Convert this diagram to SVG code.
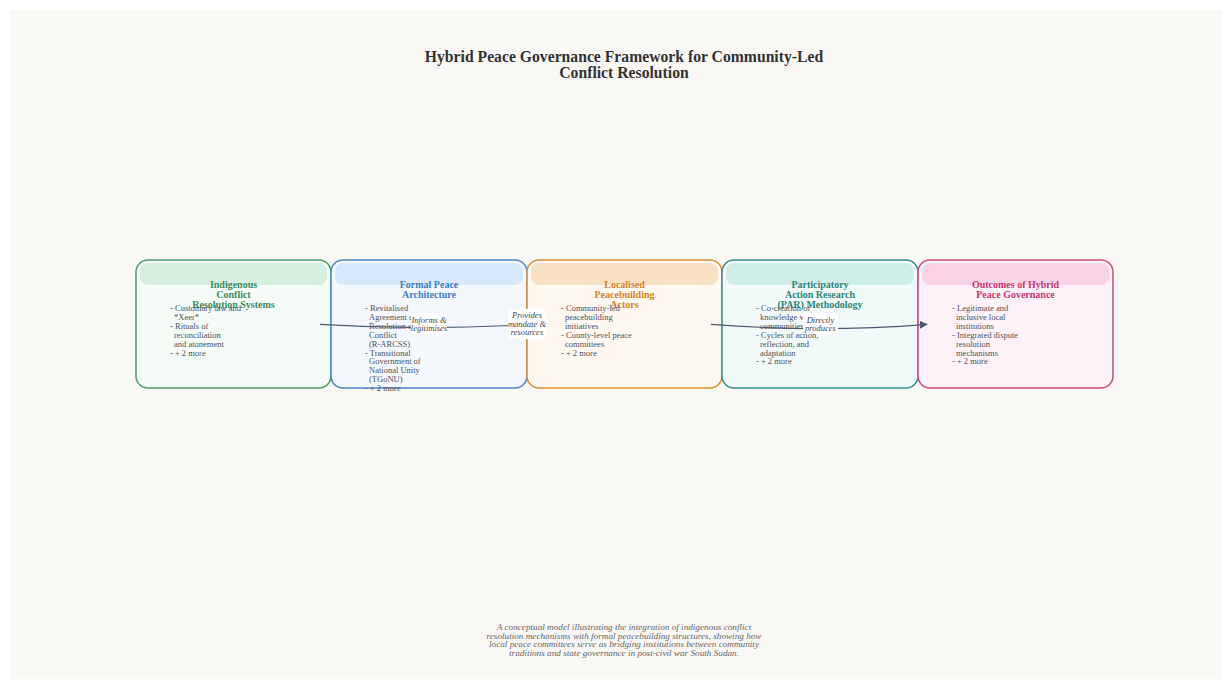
<svg xmlns="http://www.w3.org/2000/svg" width="1232" height="689" viewBox="0 0 1232 689">
<defs>
<marker id="arr" viewBox="0 0 10 10" refX="9" refY="5" markerWidth="8" markerHeight="8" markerUnits="userSpaceOnUse" orient="auto">
<path d="M0,0 L10,5 L0,10 z" fill="#4a5a6e"/>
</marker>
<style>
.title{font-family:"Liberation Serif","Times New Roman",serif;font-weight:bold;font-size:15.7px;fill:#333;text-anchor:middle}
.nt{font-family:"Liberation Serif","Times New Roman",serif;font-weight:bold;font-size:10px;text-anchor:middle}
.bl{font-family:"Liberation Serif","Times New Roman",serif;font-size:8.5px;fill:#4f5260}
.lab{font-family:"Liberation Serif","Times New Roman",serif;font-style:italic;font-size:8.5px;fill:#444;text-anchor:middle}
.cap{font-family:"Liberation Serif","Times New Roman",serif;font-style:italic;font-size:9.2px;fill:#666;text-anchor:middle}
.box{stroke-width:1.5}
.edge{fill:none;stroke:#4a5a6e;stroke-width:1.2}
.lbg{fill:#ffffff}
</style>
</defs>
<rect x="0" y="0" width="1232" height="689" fill="#ffffff"/>
<rect x="10" y="10" width="1212" height="669" fill="#faf9f6"/>
<rect x="92" y="47" width="1066" height="618" fill="#f9f8f5"/>
<g id="title">
<text class="title" x="624" y="62">Hybrid Peace Governance Framework for Community-Led</text>
<text class="title" x="624" y="78">Conflict Resolution</text>
</g>
<g id="node-indigenous">
<rect class="box" x="136" y="260" width="195" height="128" rx="12" fill="#f5fbf6" stroke="#4e9a6f"/>
<rect x="140" y="263" width="187" height="22" rx="8" fill="#d6efdf"/>
<text class="nt" fill="#3b8c5e"><tspan x="233.5" y="288">Indigenous</tspan><tspan x="233.5" y="298">Conflict</tspan><tspan x="233.5" y="308">Resolution Systems</tspan></text>
<text class="bl"><tspan x="170" y="311">- Customary law and</tspan><tspan x="174" y="320">*Xeer*</tspan><tspan x="170" y="328.5">- Rituals of</tspan><tspan x="174" y="337.5">reconciliation</tspan><tspan x="174" y="346.5">and atonement</tspan><tspan x="170" y="355.5">- + 2 more</tspan></text>
</g>
<g id="node-formal">
<rect class="box" x="331" y="260" width="196" height="128" rx="12" fill="#f4f8fd" stroke="#4a86c5"/>
<rect x="335" y="263" width="188" height="22" rx="8" fill="#d8e8fb"/>
<text class="nt" fill="#3a7cc4"><tspan x="429" y="288">Formal Peace</tspan><tspan x="429" y="298">Architecture</tspan></text>
<text class="bl"><tspan x="365" y="311">- Revitalised</tspan><tspan x="369" y="320">Agreement on</tspan><tspan x="369" y="328.5">Resolution of</tspan><tspan x="369" y="337.5">Conflict</tspan><tspan x="369" y="346.5">(R-ARCSS)</tspan><tspan x="365" y="355.5">- Transitional</tspan><tspan x="369" y="364">Government of</tspan><tspan x="369" y="373">National Unity</tspan><tspan x="369" y="382">(TGoNU)</tspan><tspan x="365" y="391">- + 2 more</tspan></text>
</g>
<g id="node-localised">
<rect class="box" x="527" y="260" width="195" height="128" rx="12" fill="#fef8f0" stroke="#d9912f"/>
<rect x="531" y="263" width="187" height="22" rx="8" fill="#f8e0c5"/>
<text class="nt" fill="#d4821f"><tspan x="624.5" y="288">Localised</tspan><tspan x="624.5" y="298">Peacebuilding</tspan><tspan x="624.5" y="308">Actors</tspan></text>
<text class="bl"><tspan x="561" y="311">- Community-led</tspan><tspan x="565" y="320">peacebuilding</tspan><tspan x="565" y="328.5">initiatives</tspan><tspan x="561" y="337.5">- County-level peace</tspan><tspan x="565" y="346.5">committees</tspan><tspan x="561" y="355.5">- + 2 more</tspan></text>
</g>
<g id="node-par">
<rect class="box" x="722" y="260" width="196" height="128" rx="12" fill="#f1faf8" stroke="#3a8f85"/>
<rect x="726" y="263" width="188" height="22" rx="8" fill="#cfeee8"/>
<text class="nt" fill="#2a877a"><tspan x="820" y="288">Participatory</tspan><tspan x="820" y="298">Action Research</tspan><tspan x="820" y="308">(PAR) Methodology</tspan></text>
<text class="bl"><tspan x="756" y="311">- Co-creation of</tspan><tspan x="760" y="320">knowledge with</tspan><tspan x="760" y="328.5">communities</tspan><tspan x="756" y="337.5">- Cycles of action,</tspan><tspan x="760" y="346.5">reflection, and</tspan><tspan x="760" y="355.5">adaptation</tspan><tspan x="756" y="364">- + 2 more</tspan></text>
</g>
<g id="node-outcomes">
<rect class="box" x="918" y="260" width="195" height="128" rx="12" fill="#fdf2f7" stroke="#cc4a80"/>
<rect x="922" y="263" width="187" height="22" rx="8" fill="#f8d4e5"/>
<text class="nt" fill="#c9356f"><tspan x="1015.5" y="288">Outcomes of Hybrid</tspan><tspan x="1015.5" y="298">Peace Governance</tspan></text>
<text class="bl"><tspan x="952" y="311">- Legitimate and</tspan><tspan x="956" y="320">inclusive local</tspan><tspan x="956" y="328.5">institutions</tspan><tspan x="952" y="337.5">- Integrated dispute</tspan><tspan x="956" y="346.5">resolution</tspan><tspan x="956" y="355.5">mechanisms</tspan><tspan x="952" y="364">- + 2 more</tspan></text>
</g>
<g id="connectors">
<path class="edge" d="M320,324.3 Q428,331 536,324" marker-end="url(#arr)"/>
<path class="edge" d="M516,324 L537,324" marker-end="url(#arr)"/>
<path class="edge" d="M711,324.3 Q820,333 927,324.3" marker-end="url(#arr)"/>
<rect class="lbg" x="411" y="313" width="36" height="21"/>
<text class="lab"><tspan x="429" y="322.5">Informs &amp;</tspan><tspan x="429" y="331">legitimises</tspan></text>
<rect class="lbg" x="508" y="309" width="38" height="30"/>
<text class="lab"><tspan x="527" y="318">Provides</tspan><tspan x="527" y="326.5">mandate &amp;</tspan><tspan x="527" y="335">resources</tspan></text>
<rect class="lbg" x="803" y="313" width="35" height="21"/>
<text class="lab"><tspan x="820.5" y="322.5">Directly</tspan><tspan x="820.5" y="331">produces</tspan></text>
</g>
<g id="caption">
<text class="cap"><tspan x="624" y="630">A conceptual model illustrating the integration of indigenous conflict</tspan><tspan x="624" y="638.7">resolution mechanisms with formal peacebuilding structures, showing how</tspan><tspan x="624" y="647.4">local peace committees serve as bridging institutions between community</tspan><tspan x="624" y="656.1">traditions and state governance in post-civil war South Sudan.</tspan></text>
</g>
</svg>
